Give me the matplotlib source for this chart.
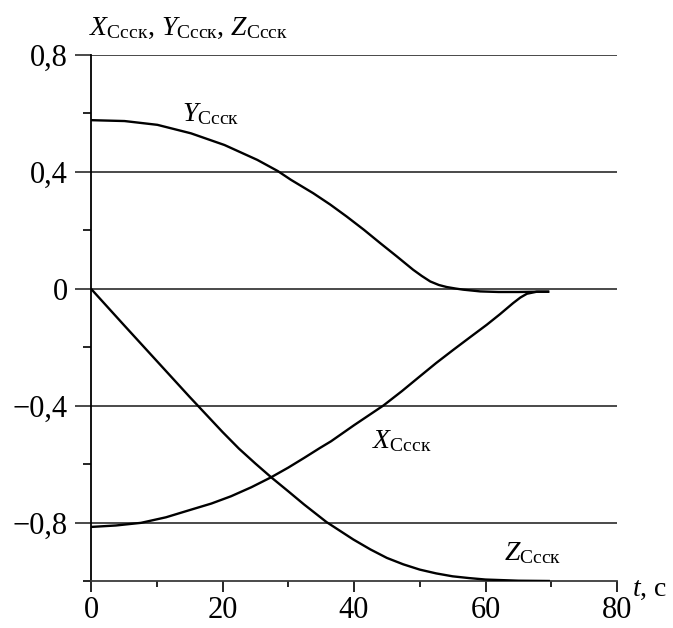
import matplotlib
matplotlib.use("Agg")
import matplotlib.pyplot as plt
from matplotlib.ticker import FixedLocator, FixedFormatter

plt.rcParams['font.family'] = ['Liberation Serif', 'DejaVu Serif']
plt.rcParams['mathtext.fontset'] = 'custom'
plt.rcParams['mathtext.rm'] = 'Liberation Serif'
plt.rcParams['mathtext.it'] = 'Liberation Serif:italic'

# ---- data ----
t_Y = [0, 5.1, 10.1, 15.2, 20.3, 25.3, 28.4, 30.4, 33.8, 36.4, 38.9, 41.5, 44.0, 46.5,
       49.0, 50.3, 51.6, 52.9, 54.1, 55.4, 56.6, 59.2, 62, 65, 68, 69.7]
Y = [0.577, 0.574, 0.561, 0.532, 0.492, 0.441, 0.403, 0.373, 0.327, 0.288, 0.247, 0.202,
     0.156, 0.111, 0.065, 0.044, 0.025, 0.013, 0.006, 0.001, -0.003, -0.009, -0.011,
     -0.011, -0.010, -0.010]

t_X = [0, 3.8, 7.6, 11.4, 15.2, 18.3, 21.3, 24.4, 27.4, 30, 32.4, 34.8, 36.5, 40, 44.5,
       47.3, 50, 52.5, 55.1, 57.7, 60.2, 62.2, 64.2, 65.3, 66.3, 67.8, 69.7]
X = [-0.815, -0.810, -0.801, -0.782, -0.756, -0.735, -0.710, -0.679, -0.645, -0.612,
     -0.579, -0.545, -0.522, -0.467, -0.399, -0.350, -0.300, -0.254, -0.209, -0.165,
     -0.123, -0.087, -0.049, -0.030, -0.017, -0.010, -0.010]

t_Z = [0, 5, 10, 15, 20, 22.5, 25, 27.4, 30, 32.4, 35.8, 39.9, 42.5, 45, 47.5, 50,
       52.5, 55, 57.5, 60, 65, 69.8]
Z = [0, -0.124, -0.247, -0.370, -0.490, -0.547, -0.598, -0.645, -0.693, -0.738, -0.798,
     -0.858, -0.892, -0.921, -0.943, -0.961, -0.974, -0.984, -0.990, -0.995, -0.999, -1.0]

x_major = [0, 20, 40, 60, 80]
x_minor = [10, 30, 50, 70]
y_major = [0.8, 0.4, 0.0, -0.4, -0.8]
y_major_labels = ['0,8', '0,4', '0', '\u22120,4', '\u22120,8']
y_minor = [0.6, 0.2, -0.2, -0.6, -1.0]

sub = r'_{\mathrm{Ссск}}'
lbl_X = r'$X' + sub + '$'
lbl_Y = r'$Y' + sub + '$'
lbl_Z = r'$Z' + sub + '$'

# ---- figure ----
fig = plt.figure(figsize=(6.73, 6.28), dpi=100)
ax = fig.add_axes([91/673, 1 - 581/628, (617 - 91)/673, (581 - 55)/628])

grid_c = '#3a3a3a'
for tt, vv in [(t_Y, Y), (t_X, X), (t_Z, Z)]:
    ax.plot(tt, vv, color='black', lw=1.7, solid_capstyle='butt',
            solid_joinstyle='round', zorder=3)

ax.set_xlim(0, 80)
ax.set_ylim(-1.0, 0.8)

for s in ['top', 'right']:
    ax.spines[s].set_visible(False)
ax.spines['left'].set_linewidth(1.3)
ax.spines['bottom'].set_linewidth(1.3)
ax.spines['bottom'].set_color(grid_c)

ax.xaxis.set_major_locator(FixedLocator(x_major))
ax.xaxis.set_minor_locator(FixedLocator(x_minor))
ax.yaxis.set_major_locator(FixedLocator(y_major))
ax.yaxis.set_major_formatter(FixedFormatter(y_major_labels))
ax.yaxis.set_minor_locator(FixedLocator(y_minor))

ax.tick_params(axis='x', which='major', direction='out', length=8, width=1.2,
               color='black', labelsize=22, pad=3)
ax.tick_params(axis='x', which='minor', direction='out', length=4.5, width=1.2, color='black')
ax.tick_params(axis='y', which='major', direction='out', length=11.5, width=1.3,
               color=grid_c, labelsize=22, pad=5)
ax.tick_params(axis='y', which='minor', direction='out', length=5.8, width=1.2, color='black')

ax.yaxis.grid(True, which='major', color=grid_c, lw=1.3)
ax.set_axisbelow(True)

# curve labels
ax.text(18.2, 0.598, lbl_Y, fontsize=20, ha='center', va='center')
ax.text(47.2, -0.52, lbl_X, fontsize=20, ha='center', va='center')
ax.text(67.1, -0.906, lbl_Z, fontsize=20, ha='center', va='center')

# axis labels
fig.text(89/673, 1 - 28/628, lbl_X + ', ' + lbl_Y + ', ' + lbl_Z, fontsize=20,
         ha='left', va='center')
fig.text(632/673, 1 - 590/628, r'$t$, с', fontsize=20, ha='left', va='center')

fig.savefig('out.png', dpi=100)
